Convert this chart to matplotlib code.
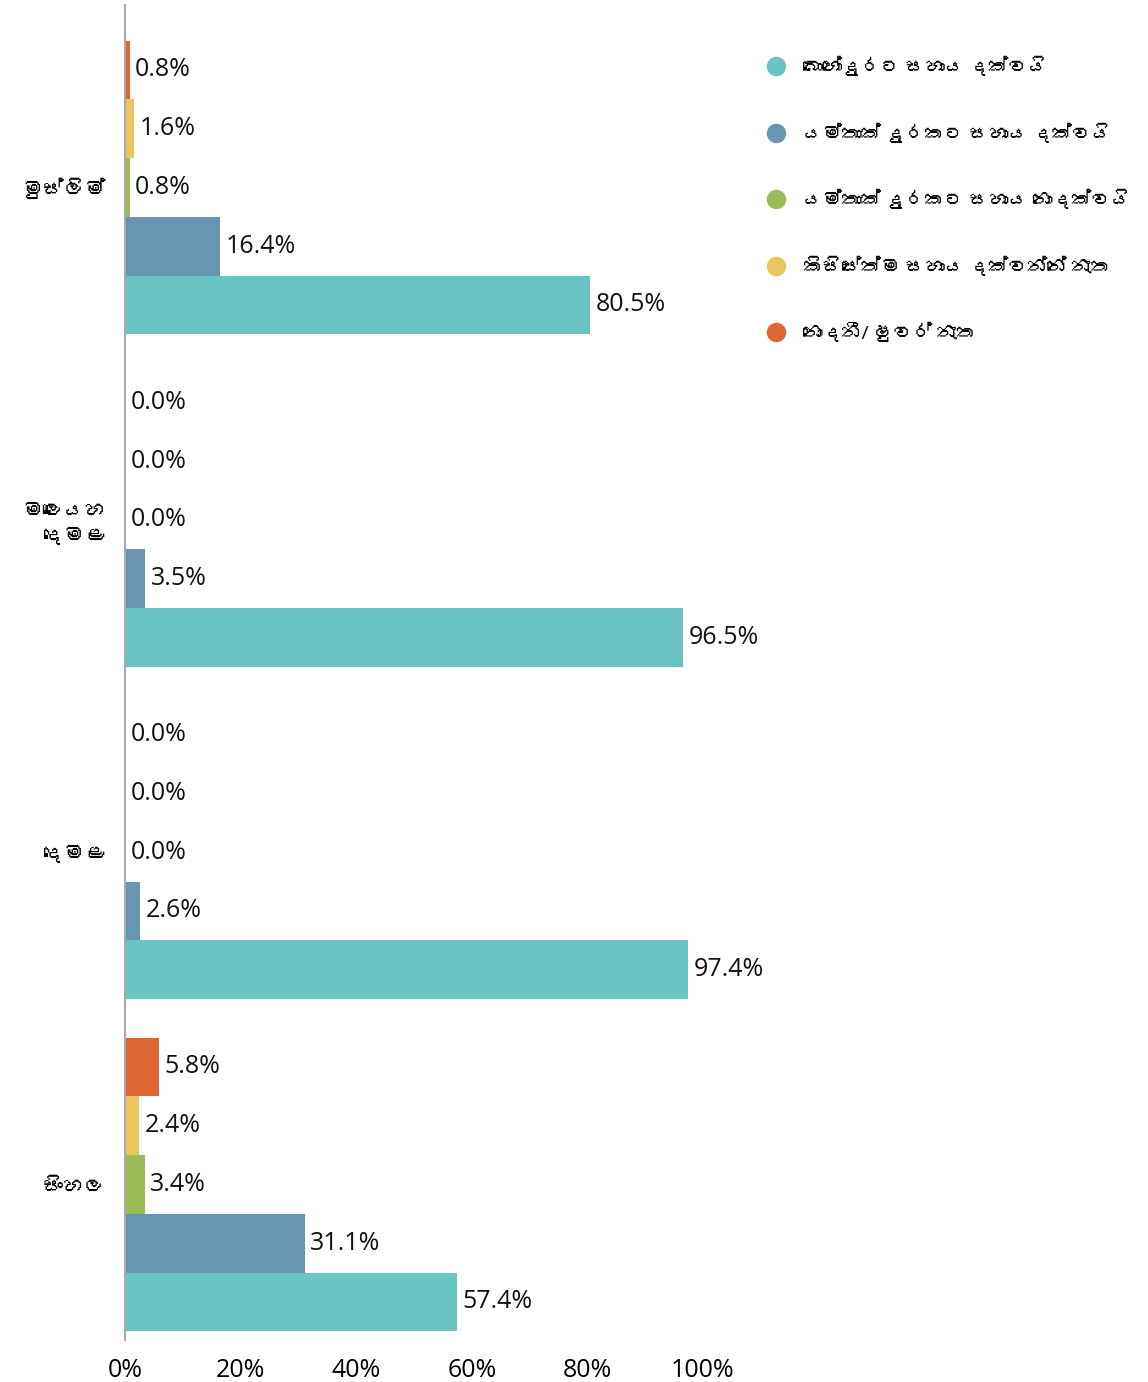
import matplotlib
matplotlib.use("Agg")
import matplotlib.pyplot as plt
from matplotlib.lines import Line2D
from matplotlib import font_manager
from matplotlib.ft2font import FT2Font
import numpy as np

# look for any installed family that covers Sinhala
sinhala_family = None
for fe in font_manager.fontManager.ttflist:
    try:
        cmap = FT2Font(fe.fname).get_charmap()
    except Exception:
        continue
    if 0x0D9A in cmap and 0x0DC3 in cmap:
        sinhala_family = fe.name
        break

families = ['Open Sans']
if sinhala_family:
    families.append(sinhala_family)
families += ['Noto Sans', 'DejaVu Sans']
plt.rcParams['font.family'] = families

categories = ["සිංහල", "දෙමළ", "මලෛයහ\nදෙමළ", "මුස්ලිම්"]
series_names = [
    "බොහෝදුරට සහාය දක්වයි",
    "යම්තාක් දුරකට සහාය දක්වයි",
    "යම්තාක් දුරකට සහාය නොදක්වයි",
    "කිසිසේත්ම සහාය දක්වන්නේ නැත",
    "නොදනී/ ෂුවර් නැත",
]
# values per series, ordered as categories (Sinhala, Tamil, Malayaha Tamil, Muslim)
strongly_support = [57.4, 97.4, 96.5, 80.5]
somewhat_support = [31.1, 2.6, 3.5, 16.4]
somewhat_not_support = [3.4, 0.0, 0.0, 0.8]
not_at_all = [2.4, 0.0, 0.0, 1.6]
dont_know = [5.8, 0.0, 0.0, 0.8]
series_values = [strongly_support, somewhat_support, somewhat_not_support, not_at_all, dont_know]
colors = ["#6BC4C4", "#6795B2", "#9BBB59", "#EAC45C", "#DD6634"]
xticks = [0, 20, 40, 60, 80, 100]
xtick_labels = ["0%", "20%", "40%", "60%", "80%", "100%"]

fig = plt.figure(figsize=(11.48, 13.82), dpi=100)
ax = fig.add_axes([125/1148, 1 - 1340/1382, 578/1148, 1335/1382])

h = 0.1768
pos = np.arange(len(categories))
for i, (vals, col) in enumerate(zip(series_values, colors)):
    y = pos + (i - 2) * h
    ax.barh(y, vals, height=h, color=col, edgecolor='none')
    for yy, v in zip(y, vals):
        ax.annotate(f"{v:.1f}%", xy=(v, yy), xytext=(4, 0), textcoords='offset points',
                    va='center', ha='left', fontsize=18, color='#111111')

ax.set_xlim(0, 100)
ax.set_ylim(-0.468, 3.549)
ax.set_yticks(pos)
ax.set_yticklabels(categories, fontsize=15, ha='right', multialignment='right')
ax.set_xticks(xticks)
ax.set_xticklabels(xtick_labels, fontsize=18)
ax.tick_params(axis='both', length=0)
ax.tick_params(axis='x', pad=13)
ax.tick_params(axis='y', pad=14)
for s in ['top', 'right', 'bottom']:
    ax.spines[s].set_visible(False)
ax.spines['left'].set_color('#AAAAAA')
ax.spines['left'].set_linewidth(1.5)

handles = [Line2D([0], [0], marker='o', linestyle='none', markersize=14,
                  markerfacecolor=c, markeredgecolor='none') for c in colors]
fig.legend(handles, series_names, loc='upper left', bbox_to_anchor=(757/1148, 1 - 57/1382),
           frameon=False, fontsize=14, labelspacing=2.38, handletextpad=0.35, borderaxespad=0,
           borderpad=0)

fig.savefig("out.png", dpi=100)
